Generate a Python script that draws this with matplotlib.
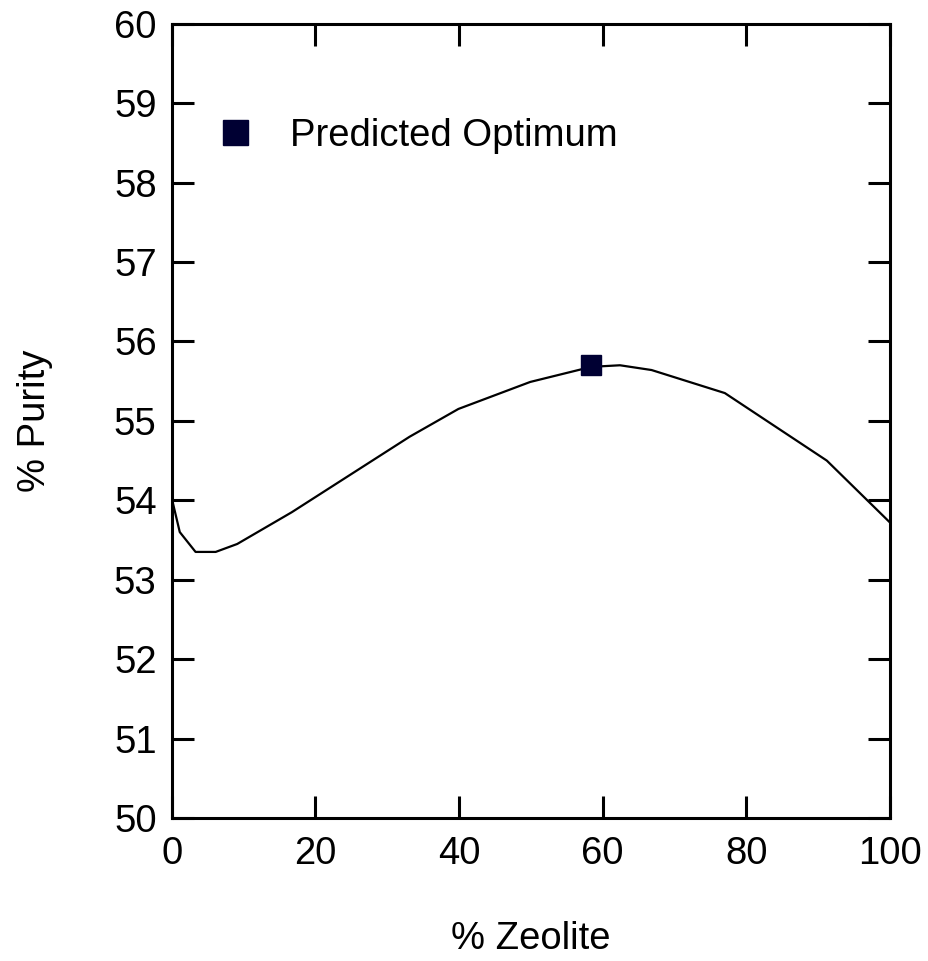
import matplotlib
matplotlib.use("Agg")
import matplotlib.pyplot as plt

# courbe de pureté en fonction du % de zéolite
zeolite = [0, 1.1, 3.3, 6.1, 9.1, 16.7, 33.1, 39.9, 49.9, 58.4, 62.4, 66.8, 77.0, 91.2, 100]
purete = [54.02, 53.6, 53.35, 53.35, 53.45, 53.85, 54.8, 55.15, 55.49, 55.68, 55.70, 55.64, 55.35, 54.5, 53.72]

# optimum prédit
opt_x = [58.4]
opt_y = [55.70]

plt.rcParams['font.family'] = ['Liberation Sans', 'DejaVu Sans']

fig = plt.figure(figsize=(9.29, 9.61), dpi=100)
ax = fig.add_axes([0.185, 0.1488, 0.773, 0.8265])

ax.plot(zeolite, purete, color='black', linewidth=1.6)
ax.plot(opt_x, opt_y, linestyle='none', marker='s', markersize=14.4,
        color='#000033', label='Predicted Optimum')

ax.set_xlim(0, 100)
ax.set_ylim(50, 60)
ax.set_xticks(range(0, 101, 20))
ax.set_yticks(range(50, 61))

for s in ax.spines.values():
    s.set_linewidth(2.2)
ax.tick_params(direction='in', length=15.5, width=2.2, labelsize=27.5,
               top=True, right=True)
ax.tick_params(axis='x', pad=13)
ax.tick_params(axis='y', pad=11)

ax.set_xlabel('% Zeolite', fontsize=27.5)
ax.set_ylabel('% Purity', fontsize=27.5)
ax.xaxis.set_label_coords(0.5, -0.13)
ax.yaxis.set_label_coords(-0.165, 0.5)

ax.legend(loc='upper left', bbox_to_anchor=(0.0, 0.925), frameon=False,
          fontsize=27.5, markerscale=1.25, handletextpad=0.7, handlelength=1.5)

fig.savefig('out.png', dpi=100)
